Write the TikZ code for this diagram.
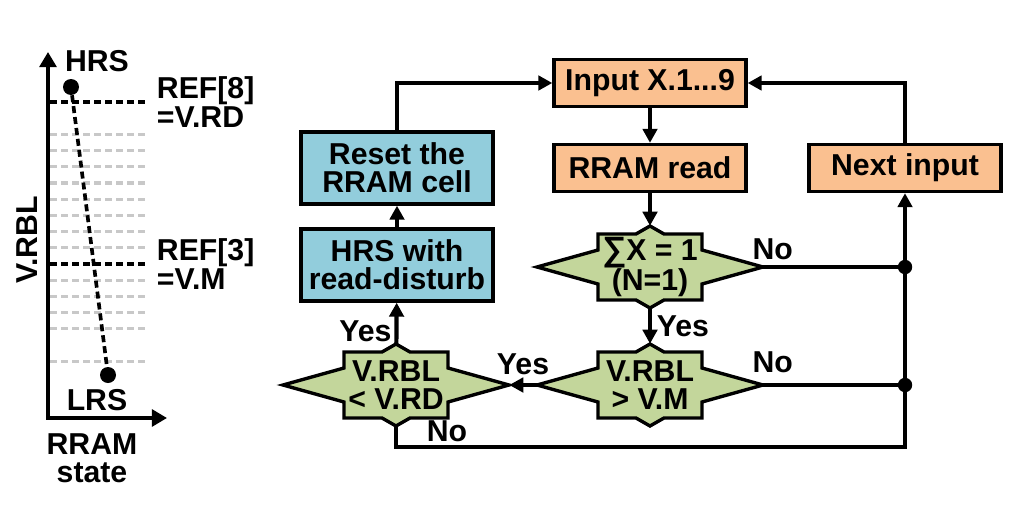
\documentclass[tikz,border=0pt]{standalone}
\usepackage{fontspec}
\setmainfont{Liberation Sans}
\usetikzlibrary{arrows.meta, calc}
\definecolor{BoxOrange}{HTML}{FAC090}
\definecolor{BoxBlue}{HTML}{92CDDC}
\definecolor{DecGreen}{HTML}{C3D69B}
\definecolor{RefGray}{HTML}{C8C8C8}

% decision: name, centre, text
\newcommand{\decision}[3]{%
  \draw[decshape, shift={(#2)}] (-113,0) -- (-52,-17) -- (-52,-33) -- (-14,-33) -- (0,-41)
    -- (14,-33) -- (52,-33) -- (52,-17) -- (113,0) -- (52,17) -- (52,33) -- (14,33)
    -- (0,41) -- (-14,33) -- (-52,33) -- (-52,17) -- cycle;
  \node[dectext] (#1) at (#2) {#3};
}

\begin{document}
\begin{tikzpicture}[x=0.25mm, y=-0.25mm, >={Triangle[length=3.5mm, width=3.6mm]},
  every node/.style={font=\bfseries\fontsize{21.5}{20}\selectfont},
  box/.style={draw, line width=2.4pt, minimum width=48mm, minimum height=11.75mm, inner sep=0pt, align=center},
  inbox/.style={box, fill=BoxOrange},
  cellbox/.style={box, fill=BoxBlue, minimum height=18mm},
  decshape/.style={draw, fill=DecGreen, line width=2.4pt, line join=miter},
  dectext/.style={minimum width=56.5mm, minimum height=20.5mm, inner sep=0pt, align=center},
  conn/.style={line width=3pt},
  junc/.style={circle, fill, inner sep=0pt, minimum size=3.6mm},
  state/.style={circle, fill, inner sep=0pt, minimum size=4mm},
  axis/.style={line width=3pt, {Triangle[length=3.8mm, width=4.2mm]}-{Triangle[length=3.8mm, width=4.2mm]}},
  refline/.style={line width=2.4pt, dash pattern=on 1.75mm off 1mm},
  levelline/.style={refline, RefGray},
  lbl/.style={inner sep=2pt}]
  \useasboundingbox (0,0) rectangle (1026,517);

  % left: read levels
  \coordinate (ytop) at (48,52);
  \coordinate (xend) at (167,418);
  \draw[axis] (ytop) |- (xend);
  \node[rotate=90] (vrbl) at (27,240) {V.RBL};
  \node[align=center] (xlbl) at (92,458) {RRAM\\state};
  \foreach \k in {2,...,9,11,12,13,14,16}
    \draw[levelline] (50,{102+16.2*\k}) -- (147,{102+16.2*\k});
  \draw[refline] (50,102) -- (147,102);
  \draw[refline] (50,264) -- (147,264);
  \node[anchor=west, align=left] (ref8) at (152,102) {REF[8]\\=V.RD};
  \node[anchor=west, align=left] (ref3) at (152,264) {REF[3]\\=V.M};
  \node[state] (hrsdot) at (71,87) {};
  \node[state] (lrsdot) at (108,375) {};
  \node (hrslbl) at (97,61) {HRS};
  \node (lrslbl) at (97,400) {LRS};
  \draw[refline, line width=2.6pt] (hrsdot) -- (lrsdot);

  % right: flow chart
  \node[inbox] (input) at (650,83) {Input X.1...9};
  \node[inbox] (read) at (650,168) {RRAM read};
  \node[inbox] (next) at (905,168) {Next input};
  \node[cellbox] (reset) at (397,168) {Reset the\\RRAM cell};
  \node[cellbox] (disturb) at (397,265) {HRS with\\read-disturb};
  \decision{sum}{650,267}{{\fontsize{24}{20}\selectfont∑}X = 1\\(N=1)}
  \decision{cmpm}{650,385}{V.RBL\\> V.M}
  \decision{cmprd}{396,385}{V.RBL\\< V.RD}
  \node[junc] (j1) at (905,267) {};
  \node[junc] (j2) at (905,385) {};
  \coordinate (loop) at (905,447);

  \draw[conn,->] (input) -- (read);
  \draw[conn,->] (read) -- (sum);
  \draw[conn,->] (sum) -- node[right] {Yes} (cmpm);
  \draw[conn,->] (cmpm) -- node[above, lbl, yshift=4pt] {Yes} (cmprd);
  \draw[conn,->] (cmprd) -- node[left, lbl, pos=0.3] {Yes} (disturb);
  \draw[conn,->] (disturb) -- (reset);
  \draw[conn,->] (reset.north) |- (input.west);
  \draw[conn,->] (next.north) |- (input.east);
  \draw[conn] (sum.east) -- node[above, pos=0.07] {No} (j1);
  \draw[conn] (cmpm.east) -- node[above, pos=0.07, lbl, yshift=5pt] {No} (j2);
  \draw[conn,->] (cmprd.south) |- node[above, pos=0.55, lbl] {No} (loop) -- (next.south);
\end{tikzpicture}
\end{document}
